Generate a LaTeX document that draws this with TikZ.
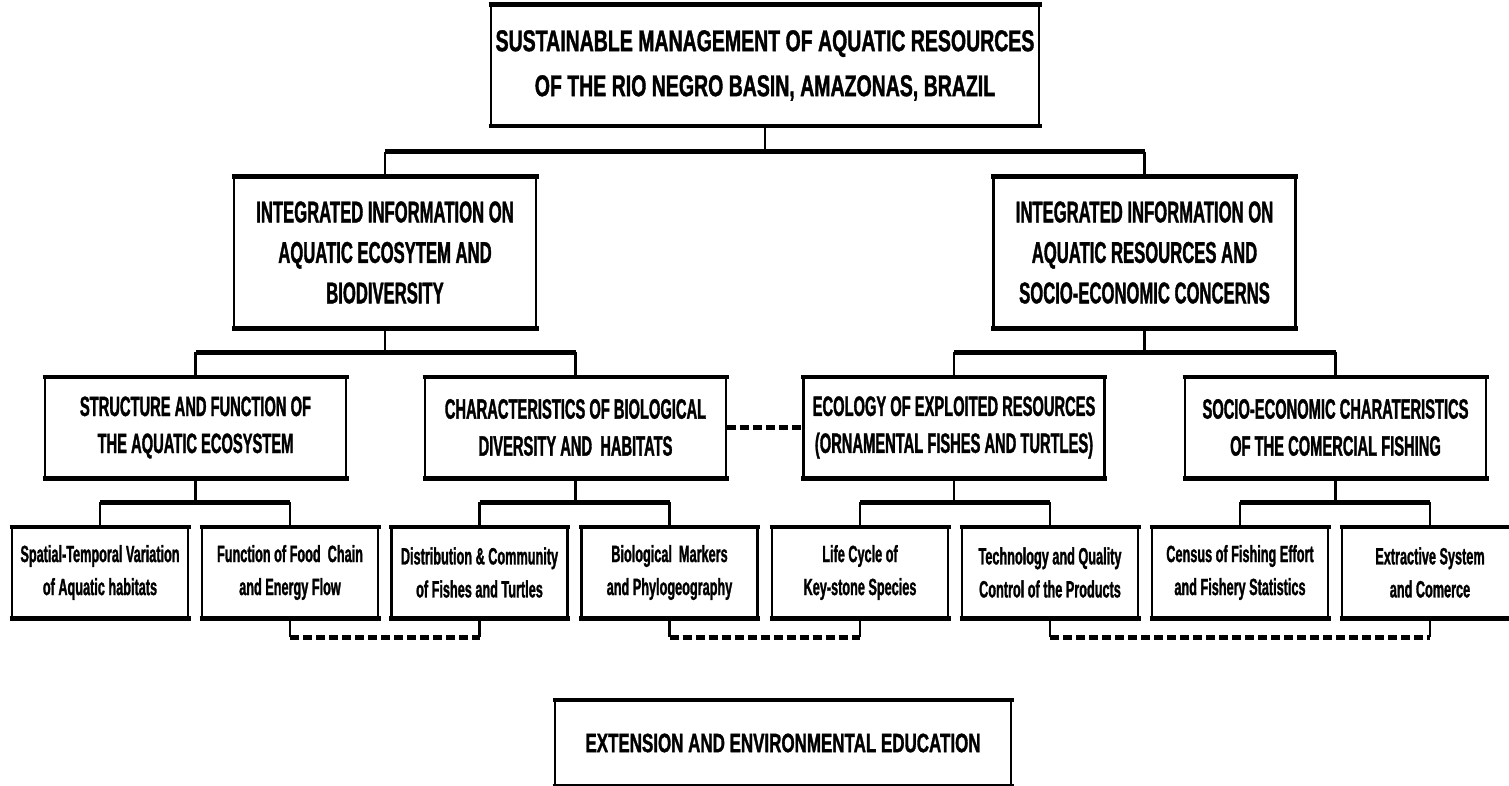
\documentclass[tikz,border=0pt]{standalone}
\usepackage{fontspec}
\setmainfont{Liberation Sans}
\newfontfamily\fTop{Liberation Sans Bold}[FakeStretch=0.65, FakeBold=1.2]
\newfontfamily\fOne{Liberation Sans Bold}[FakeStretch=0.555, FakeBold=1.2]
\newfontfamily\fTwo{Liberation Sans Bold}[FakeStretch=0.525, FakeBold=1.2]
\newfontfamily\fThree{Liberation Sans Bold}[FakeStretch=0.54, FakeBold=1.2]
\newfontfamily\fExt{Liberation Sans Bold}[FakeStretch=0.64, FakeBold=1.2]
\begin{document}
\begin{tikzpicture}[x=1pt,y=-1pt,
  box/.style={draw, line width=2.5pt, inner sep=0pt, align=center},
  vline/.style={line width=2.5pt},
  hbar/.style={line width=5pt},
  dashline/.style={line width=5pt, dash pattern=on 9pt off 4pt},
  edge/.style={line width=4.5pt, shorten <=-1.25pt, shorten >=-1.25pt}]
\clip (0,0) rectangle (1509,786);
\fill[white] (0,0) rectangle (1509,786);
% top
\node[box, minimum width=548pt, minimum height=119pt, font=\fTop\fontsize{30}{45}\selectfont] (top) at (765,65.5)
  {SUSTAINABLE MANAGEMENT OF AQUATIC RESOURCES\\OF THE RIO NEGRO BASIN, AMAZONAS, BRAZIL};
% level 1
\tikzset{l1/.style={box, minimum width=302pt, minimum height=149pt, font=\fOne\fontsize{30}{40.5}\selectfont}}
\node[l1] (l1l) at (385,252.5)
  {INTEGRATED INFORMATION ON\\AQUATIC ECOSYTEM AND\\BIODIVERSITY};
\node[l1] (l1r) at (1144.5,252.5)
  {INTEGRATED INFORMATION ON\\AQUATIC RESOURCES AND\\SOCIO-ECONOMIC CONCERNS};
% level 2
\tikzset{l2/.style={box, minimum width=301pt, minimum height=99pt, font=\fTwo\fontsize{28}{37}\selectfont}}
\node[l2] (a) at (195.5,427.5) {STRUCTURE AND FUNCTION OF\\THE AQUATIC ECOSYSTEM};
\node[l2] (b) at (575.5,427.5) {CHARACTERISTICS OF BIOLOGICAL\\DIVERSITY AND\ \ HABITATS};
\node[l2] (c) at (954,427.5) {ECOLOGY OF EXPLOITED RESOURCES\\(ORNAMENTAL FISHES AND TURTLES)};
\node[l2] (d) at (1335.5,427.5) {SOCIO-ECONOMIC CHARATERISTICS\\OF THE COMERCIAL FISHING};
% level 3
\tikzset{l3/.style={box, minimum width=176pt, minimum height=89pt, font=\fThree\fontsize{23.5}{33}\selectfont}}
\node[l3] (n1) at (100,572.5) {Spatial-Temporal Variation\\of Aquatic habitats};
\node[l3] (n2) at (290,572.5) {Function of Food\ \ Chain\\and Energy Flow};
\node[l3] (n3) at (479.5,572.5) {Distribution \& Community\\of Fishes and Turtles};
\node[l3] (n4) at (669.5,572.5) {Biological\ \ Markers\\and Phylogeography};
\node[l3] (n5) at (860,572.5) {Life Cycle of\\Key-stone Species};
\node[l3] (n6) at (1050,572.5) {Technology and Quality\\Control of the Products};
\node[l3] (n7) at (1240,572.5) {Census of Fishing Effort\\and Fishery Statistics};
\node[l3] (n8) at (1430,572.5) {Extractive System\\and Comerce};
% bottom
\node[box, minimum width=456pt, minimum height=84pt, font=\fExt\fontsize{26.5}{30}\selectfont] (ext) at (783,743)
  {EXTENSION AND ENVIRONMENTAL EDUCATION};
% thick top and bottom edges
\foreach \n in {top,l1l,l1r,a,b,c,d,n1,n2,n3,n4,n5,n6,n7,n8,ext}{
  \draw[edge] (\n.north west) -- (\n.north east);
  \draw[edge] (\n.south west) -- (\n.south east);
}
% bars
\coordinate (b0) at (765,152);
\coordinate (b1) at (0,352);
\coordinate (b2) at (0,502);
\coordinate (dd) at (0,637);
% top -> level 1
\draw[vline] (top.south) -- (b0);
\draw[hbar] (l1l.north |- b0) -- (l1r.north |- b0);
\draw[vline] (l1l.north |- b0) -- (l1l.north);
\draw[vline] (l1r.north |- b0) -- (l1r.north);
% level 1 -> level 2
\foreach \p/\x/\y in {l1l/a/b, l1r/c/d}{
  \draw[vline] (\p.south) -- (\p.south |- b1);
  \draw[hbar] (\x.north |- b1) -- (\y.north |- b1);
  \draw[vline] (\x.north |- b1) -- (\x.north);
  \draw[vline] (\y.north |- b1) -- (\y.north);
}
% level 2 -> level 3
\foreach \p/\x/\y in {a/n1/n2, b/n3/n4, c/n5/n6, d/n7/n8}{
  \draw[vline] (\p.south) -- (\p.south |- b2);
  \draw[hbar] (\x.north |- b2) -- (\y.north |- b2);
  \draw[vline] (\x.north |- b2) -- (\x.north);
  \draw[vline] (\y.north |- b2) -- (\y.north);
}
% dashed links
\draw[dashline] (b.east) -- (c.west);
\foreach \x/\y in {n2/n3, n4/n5, n6/n8}{
  \draw[vline] (\x.south) -- (\x.south |- dd);
  \draw[vline] (\y.south) -- (\y.south |- dd);
  \draw[dashline] (\x.south |- dd) -- (\y.south |- dd);
}
\end{tikzpicture}
\end{document}
